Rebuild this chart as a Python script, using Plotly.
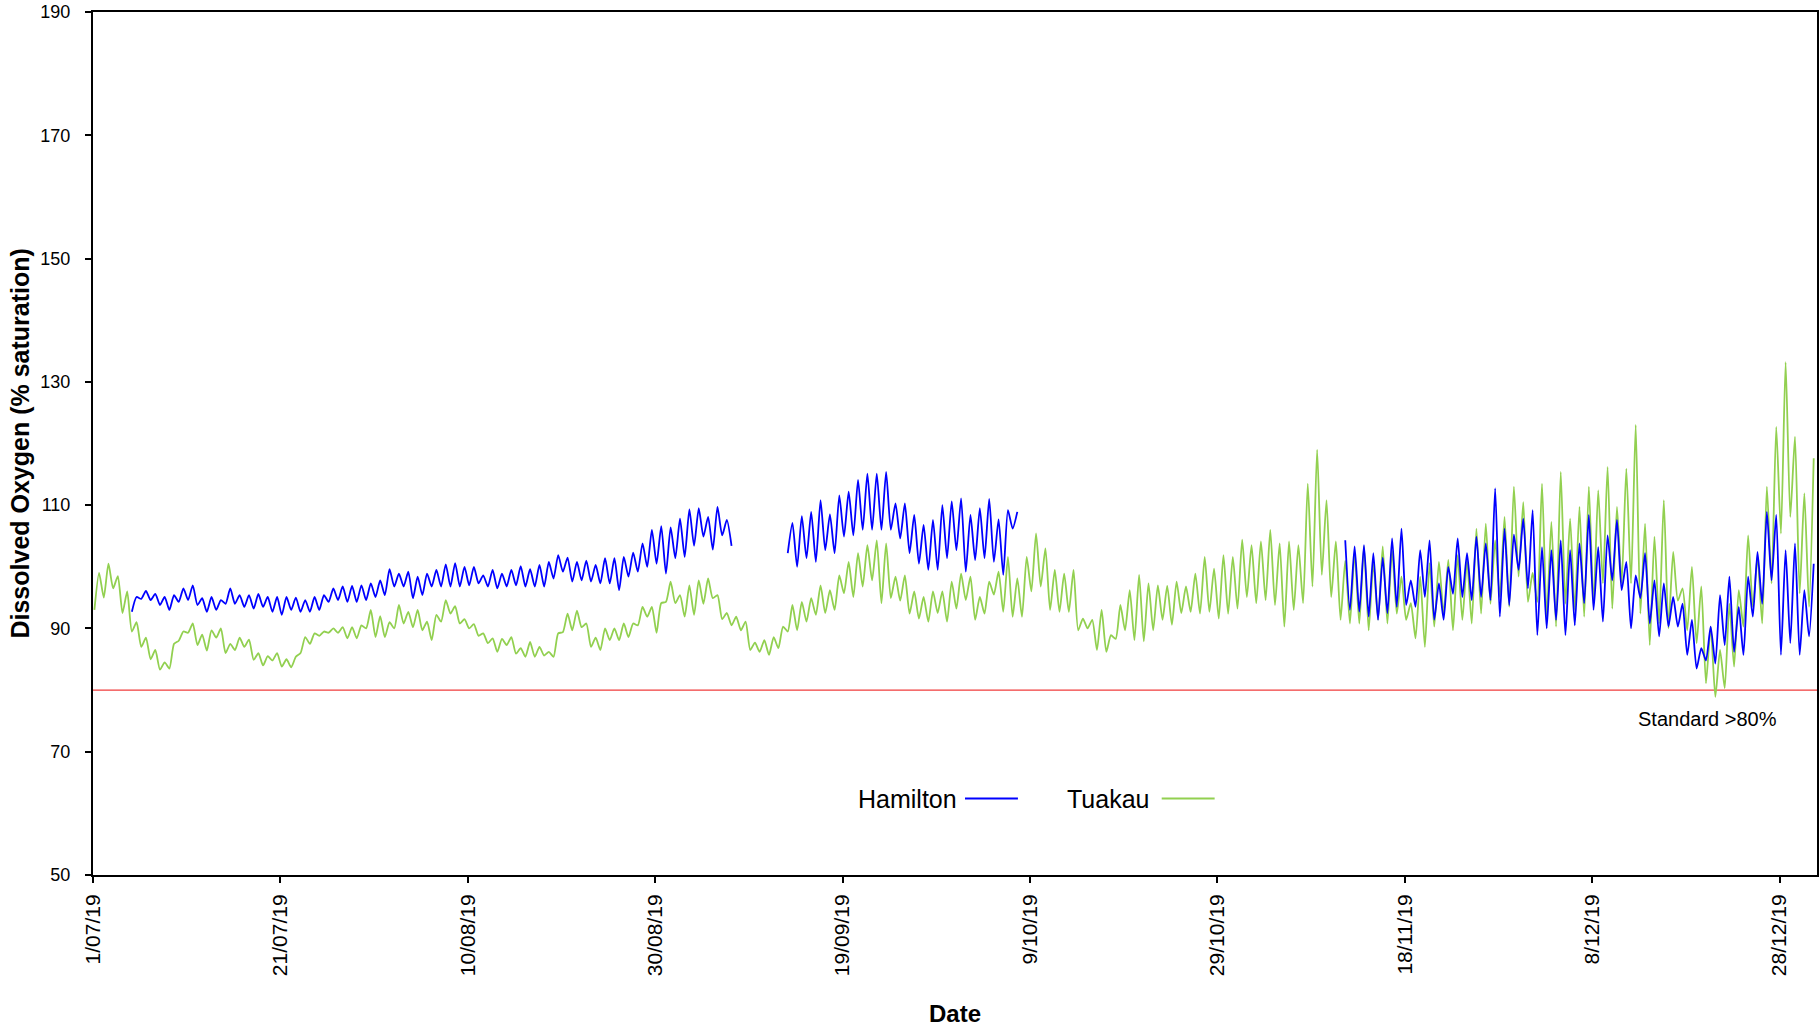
import pandas as pd
import plotly.graph_objects as go

# ---- data (daily morning low / afternoon high, % saturation), day 0 = 1/07/19 ----
start_date = "2019-07-01"
end_date = "2020-01-01"

hamilton_lo = [None]*4 + [
    92.7, 94.8, 94.6, 93.8, 93.0, 94.3, 94.6, 93.8, 92.7, 93.0,
    94.0, 94.0, 93.5, 93.2, 93.5, 92.7, 92.2, 93.0, 92.7, 92.7,
    93.0, 94.3, 94.6, 94.3, 94.3, 94.6, 95.1, 95.4, 96.8, 96.8,
    94.9, 95.4, 96.8, 96.8, 96.8, 96.8, 97.0, 97.3, 96.8, 96.5,
    96.8, 97.0, 96.8, 96.8, 96.8, 98.1, 99.2, 97.6, 97.8, 97.6,
    97.3, 97.3, 96.2, 98.4, 99.2, 100.0, 100.5, 98.9, 101.4, 101.6,
    103.4, 104.9, 102.8, 105.1, 103.4] + [None]*5 + [
    102.2, 100.0, 101.4, 100.8, 102.7, 102.2, 104.9, 105.1, 106.0, 106.0,
    106.0, 106.0, 104.6, 102.2, 100.5, 99.5, 99.5, 101.4, 102.7, 99.2,
    101.1, 101.4, 100.8, 98.7, 106.2] + [None]*35 + [
    93.0, 92.7, 91.9, 91.4, 92.5, 93.5, 93.8, 93.5, 95.1, 91.4,
    91.4, 95.6, 95.1, 94.6, 95.1, 94.6, 91.9, 93.8, 99.5, 96.5,
    88.9, 90.0, 91.4, 88.9, 90.5, 94.1, 93.0, 91.1, 97.8, 96.2,
    90.0, 94.9, 90.8, 88.7, 90.3, 90.3, 85.7, 83.5, 84.8, 84.3,
    87.3, 86.2, 85.7, 91.9, 94.0, 97.8, 85.7, 87.6, 85.7, 88.7]

hamilton_hi = [None]*4 + [
    95.1, 96.1, 95.6, 95.1, 95.4, 96.5, 97.0, 94.9, 95.1, 94.6,
    96.5, 95.4, 95.4, 95.6, 95.1, 95.1, 95.1, 95.0, 94.6, 95.1,
    95.4, 96.5, 96.8, 96.9, 97.0, 97.3, 97.8, 99.6, 98.9, 99.2,
    98.4, 98.9, 99.5, 100.4, 100.6, 100.0, 100.0, 98.6, 99.5, 98.9,
    99.5, 100.1, 99.6, 100.3, 100.8, 101.9, 101.5, 100.8, 101.0, 100.3,
    101.4, 101.4, 101.6, 102.3, 103.8, 106.0, 106.6, 106.4, 107.8, 109.3,
    109.5, 108.1, 109.7, 107.6, None] + [None]*5 + [
    107.1, 108.2, 108.9, 110.8, 108.5, 111.6, 112.2, 114.1, 115.1, 115.1,
    115.4, 110.3, 110.3, 108.4, 106.8, 107.6, 110.0, 110.6, 111.1, 108.4,
    109.5, 111.0, 107.7, 109.2, 108.9] + [None]*34 + [
    104.3,
    103.3, 103.5, 102.2, 101.5, 104.6, 106.2, 97.8, 102.7, 104.3, 97.3,
    100.0, 104.6, 102.2, 104.9, 103.8, 112.7, 106.2, 105.2, 107.8, 109.2,
    103.2, 102.7, 104.3, 102.7, 103.8, 108.4, 103.2, 105.1, 107.6, 100.8,
    98.6, 102.2, 97.8, 97.3, 95.1, 94.0, 91.4, 86.8, 90.3, 95.4,
    98.4, 93.5, 98.4, 102.4, 108.9, 108.4, 102.7, 103.8, 96.2, 100.5]

tuakau_lo = [
    93.0, 95.0, 96.5, 92.5, 89.5, 87.0, 85.0, 83.3, 83.5, 88.0,
    89.3, 87.3, 86.4, 88.5, 86.0, 86.5, 87.0, 84.9, 84.0, 84.8,
    83.8, 83.7, 86.0, 87.5, 88.8, 89.3, 89.3, 88.4, 88.4, 90.0,
    88.6, 88.6, 90.0, 90.8, 90.2, 89.7, 88.1, 91.1, 92.4, 90.8,
    90.0, 88.8, 87.6, 86.2, 87.3, 85.9, 85.4, 85.4, 85.6, 85.4,
    89.4, 89.7, 90.2, 87.0, 86.5, 88.1, 88.1, 88.6, 90.5, 91.9,
    89.3, 94.3, 94.1, 91.9, 92.2, 94.0, 94.9, 91.5, 90.5, 89.7,
    86.5, 86.2, 85.7, 86.8, 89.5, 89.7, 91.1, 92.2, 92.5, 93.0,
    95.7, 95.1, 96.8, 97.8, 94.1, 94.9, 94.5, 92.4, 91.6, 91.1,
    92.5, 91.1, 93.2, 94.6, 91.4, 92.4, 95.5, 92.7, 91.9, 91.9,
    96.0, 96.8, 93.0, 92.7, 92.7, 89.7, 90.0, 86.5, 86.2, 88.3,
    89.7, 88.1, 87.9, 89.7, 91.4, 90.6, 92.5, 92.7, 92.4, 92.7,
    91.6, 92.4, 93.2, 95.1, 94.1, 94.6, 93.8, 90.3, 93.0, 94.1,
    96.8, 98.7, 95.1, 91.4, 90.8, 90.8, 89.7, 91.4, 90.8, 92.4,
    91.4, 88.4, 87.0, 90.3, 92.4, 89.7, 91.4, 90.8, 92.4, 94.0,
    95.1, 93.5, 98.4, 94.3, 94.3, 91.9, 90.3, 94.0, 93.0, 91.9,
    94.0, 97.3, 93.2, 97.3, 97.3, 92.4, 87.3, 90.8, 90.0, 94.5,
    89.7, 87.6, 81.1, 78.9, 80.3, 83.8, 90.3, 93.5, 90.8, 97.3,
    105.4, 108.1, 95.7, 93.5]

tuakau_hi = [
    99.0, 100.5, 98.5, 96.0, 91.0, 88.5, 86.5, 84.5, 87.5, 89.5,
    90.8, 89.0, 89.7, 90.0, 87.5, 88.5, 88.2, 86.0, 85.5, 86.0,
    85.0, 85.4, 88.6, 89.2, 89.5, 90.0, 90.2, 90.2, 90.5, 93.0,
    92.0, 91.0, 93.8, 92.7, 93.0, 91.1, 92.2, 94.6, 93.6, 91.5,
    90.7, 89.2, 88.4, 88.3, 88.6, 86.8, 87.8, 87.0, 86.2, 89.2,
    92.4, 92.9, 90.8, 88.5, 90.0, 90.0, 90.8, 90.8, 93.5, 93.5,
    94.1, 97.6, 95.4, 97.0, 97.8, 98.1, 95.4, 92.5, 91.9, 91.1,
    87.7, 88.1, 88.6, 90.3, 93.8, 94.3, 94.9, 97.0, 96.2, 98.6,
    100.8, 102.2, 103.5, 104.3, 103.8, 98.4, 98.6, 96.0, 95.1, 96.0,
    96.0, 97.6, 98.9, 98.4, 95.1, 97.6, 99.2, 101.6, 98.1, 101.6,
    105.4, 103.0, 99.5, 98.9, 99.5, 91.6, 91.4, 93.0, 88.9, 93.8,
    96.2, 98.7, 97.3, 97.0, 96.9, 97.6, 96.8, 98.9, 101.6, 99.7,
    101.9, 101.6, 104.4, 103.5, 104.1, 106.0, 103.8, 104.1, 103.5, 113.5,
    119.0, 110.8, 104.1, 101.0, 102.2, 103.3, 100.6, 103.3, 102.7, 98.4,
    94.1, 98.4, 100.6, 100.8, 101.1, 101.9, 101.0, 106.2, 107.0, 104.3,
    108.1, 113.0, 110.5, 99.0, 113.5, 107.3, 115.4, 107.8, 109.7, 113.0,
    112.4, 116.2, 109.7, 115.9, 123.0, 107.0, 104.9, 110.8, 102.4, 96.5,
    100.0, 96.8, 90.3, 86.5, 94.0, 96.2, 105.1, 101.6, 113.0, 122.7,
    133.2, 121.1, 111.9, 117.6]

tick_labels = ["1/07/19", "21/07/19", "10/08/19", "30/08/19", "19/09/19",
               "9/10/19", "29/10/19", "18/11/19", "8/12/19", "28/12/19"]
standard_value = 80


def build(lo, hi):
    base = pd.Timestamp(start_date)
    xs, ys = [], []
    for d in range(len(lo)):
        xs.append(base + pd.Timedelta(days=d + 0.15))
        ys.append(lo[d])
        xs.append(base + pd.Timedelta(days=d + 0.65))
        ys.append(hi[d])
    return xs, ys


hx, hy = build(hamilton_lo, hamilton_hi)
tx, ty = build(tuakau_lo, tuakau_hi)

BLUE = "#0000FF"
GREEN = "#92D050"
FONT = "Liberation Sans, Arial, sans-serif"

fig = go.Figure()
fig.add_trace(go.Scatter(x=tx, y=ty, mode="lines", name="Tuakau",
                         line=dict(color=GREEN, width=1.8, shape="spline", smoothing=0.6),
                         connectgaps=False))
fig.add_trace(go.Scatter(x=hx, y=hy, mode="lines", name="Hamilton",
                         line=dict(color=BLUE, width=1.8, shape="spline", smoothing=0.6),
                         connectgaps=False))

tick_vals = [pd.Timestamp(start_date) + pd.Timedelta(days=20 * i) for i in range(len(tick_labels))]

fig.update_layout(
    width=1820, height=1030,
    margin=dict(l=93, r=1, t=12, b=155),
    paper_bgcolor="white", plot_bgcolor="white",
    showlegend=False,
    font=dict(family=FONT, color="black", size=18),
    xaxis=dict(type="date", range=[start_date, end_date],
               tickvals=tick_vals, ticktext=tick_labels, tickangle=-90,
               showgrid=False, zeroline=False, showline=True, linecolor="black",
               linewidth=2, mirror=True, ticks="outside", ticklen=6, tickwidth=1.5,
               tickcolor="black", ticklabelstandoff=3,
               tickfont=dict(size=21, family=FONT)),
    yaxis=dict(range=[50, 190], dtick=20, tick0=50,
               showgrid=False, zeroline=False, showline=True, linecolor="black",
               linewidth=2, mirror=True, ticks="outside", ticklen=6, tickwidth=1.5,
               tickcolor="black", ticklabelstandoff=11,
               tickfont=dict(size=18, family=FONT)),
)

fig.add_shape(type="line", xref="paper", x0=0, x1=1, yref="y", y0=standard_value, y1=standard_value,
              line=dict(color="#F03C3C", width=1.2), layer="below")

fig.add_annotation(text="Standard >80%", xref="paper", yref="paper", x=0.9366, y=0.1813,
                   showarrow=False, font=dict(size=20, family=FONT), xanchor="center", yanchor="middle")

fig.add_annotation(text="<b>Dissolved Oxygen (% saturation)</b>", xref="paper", yref="paper",
                   x=-0.0429, y=0.5, textangle=-90, showarrow=False,
                   font=dict(size=25, family=FONT), xanchor="center", yanchor="middle")
fig.add_annotation(text="<b>Date</b>", xref="paper", yref="paper", x=0.5, y=-0.160,
                   showarrow=False, font=dict(size=24, family=FONT), xanchor="center", yanchor="middle")

# legend drawn as text followed by its line sample
legend_items = [("Hamilton", BLUE, 0.4426, 0.5058, 0.5365),
                ("Tuakau", GREEN, 0.5637, 0.6199, 0.6506)]
for name, col, xt, xl0, xl1 in legend_items:
    fig.add_annotation(text=name, xref="paper", yref="paper", x=xt, y=0.0885,
                       showarrow=False, font=dict(size=25, family=FONT),
                       xanchor="left", yanchor="middle")
    fig.add_shape(type="line", xref="paper", yref="paper", x0=xl0, x1=xl1, y0=0.0885, y1=0.0885,
                  line=dict(color=col, width=2))

fig.write_html("out.html", config={"displayModeBar": False},
               post_script="document.body.style.margin='0';document.body.style.overflow='hidden';")
